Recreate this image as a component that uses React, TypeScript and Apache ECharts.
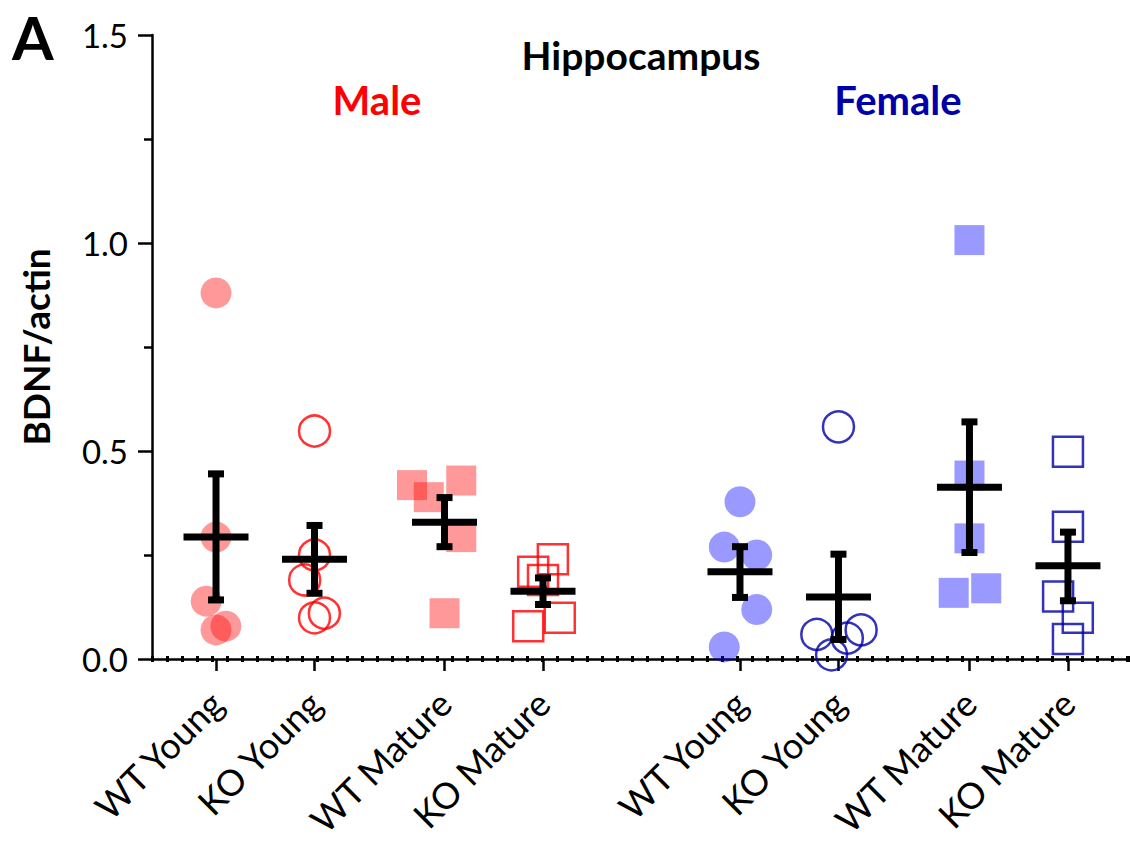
import React, { useEffect, useRef } from "react";
import * as echarts from "echarts";

// group positions on the x axis (gap between Male and Female blocks)
const groupPositions = [1, 2, 3.32, 4.32, 6.32, 7.32, 8.65, 9.65];
const groupLabels = [
  "WT Young", "KO Young", "WT Mature", "KO Mature",
  "WT Young", "KO Young", "WT Mature", "KO Mature",
];

// each point: [horizontal jitter (x units), BDNF/actin value]
const maleWTYoung = [[0, 0.88], [0, 0.293], [-0.1, 0.139], [0, 0.07], [0.1, 0.079]];
const maleKOYoung = [[0, 0.548], [0, 0.25], [-0.1, 0.19], [0, 0.099], [0.1, 0.11]];
const maleWTMature = [[-0.33, 0.418], [-0.16, 0.389], [0.17, 0.429], [0.17, 0.293], [0, 0.11]];
const maleKOMature = [[0.1, 0.24], [-0.1, 0.21], [0, 0.19], [0.17, 0.099], [-0.15, 0.079]];
const femaleWTYoung = [[0, 0.378], [-0.16, 0.269], [0.17, 0.25], [0.17, 0.119], [-0.16, 0.029]];
const femaleKOYoung = [[0, 0.558], [-0.22, 0.059], [0.23, 0.07], [0.09, 0.05], [-0.07, 0.01]];
const femaleWTMature = [[0, 1.007], [0, 0.441], [0, 0.29], [-0.16, 0.159], [0.17, 0.17]];
const femaleKOMature = [[0, 0.498], [0, 0.318], [-0.1, 0.15], [0.1, 0.099], [0, 0.048]];

// mean and SEM bounds
const means = [0.293, 0.24, 0.329, 0.163, 0.21, 0.149, 0.413, 0.224];
const errLow = [0.142, 0.158, 0.27, 0.131, 0.148, 0.047, 0.256, 0.14];
const errHigh = [0.445, 0.321, 0.388, 0.195, 0.27, 0.252, 0.57, 0.305];

const yTicks = [0, 0.5, 1.0, 1.5];

const RED = "#ff0000";
const RED_FILL = "rgba(255,0,0,0.5)";
const BLUE = "#0000a8";
const BLUE_FILL = "rgba(0,0,255,0.5)";
const FONT = "Lato, 'Open Sans', sans-serif";

const groups = [
  { data: maleWTYoung, symbol: "circle", size: 31, filled: true, color: RED_FILL },
  { data: maleKOYoung, symbol: "circle", size: 31, filled: false, color: RED },
  { data: maleWTMature, symbol: "rect", size: 30, filled: true, color: RED_FILL },
  { data: maleKOMature, symbol: "rect", size: 30, filled: false, color: RED },
  { data: femaleWTYoung, symbol: "circle", size: 31, filled: true, color: BLUE_FILL },
  { data: femaleKOYoung, symbol: "circle", size: 31, filled: false, color: BLUE },
  { data: femaleWTMature, symbol: "rect", size: 30, filled: true, color: BLUE_FILL },
  { data: femaleKOMature, symbol: "rect", size: 30, filled: false, color: BLUE },
];

export default function App() {
  const ref = useRef<HTMLDivElement>(null);

  useEffect(() => {
    if (!ref.current) return;
    const chart = echarts.init(ref.current, null, { renderer: "svg" });

    const scatterSeries = groups.map((g, i) => ({
      type: "scatter",
      xAxisIndex: 0,
      yAxisIndex: 0,
      symbol: g.symbol,
      symbolSize: g.size,
      z: 2,
      itemStyle: g.filled
        ? { color: g.color, borderWidth: 0 }
        : { color: "rgba(0,0,0,0)", borderColor: g.color, borderWidth: 2.5 },
      emphasis: { disabled: true },
      data: g.data.map((p) => [groupPositions[i] + p[0], p[1]]),
    }));

    const errData = groupPositions.map((x, i) => [x, means[i], errLow[i], errHigh[i]]);

    const errSeries = {
      type: "custom",
      xAxisIndex: 0,
      yAxisIndex: 0,
      z: 5,
      data: errData,
      encode: { x: 0, y: 1 },
      renderItem: (params: any, api: any) => {
        const x = api.value(0);
        const m = api.coord([x, api.value(1)]);
        const lo = api.coord([x, api.value(2)]);
        const hi = api.coord([x, api.value(3)]);
        const st = { fill: "#000" };
        const t = 7;
        return {
          type: "group",
          children: [
            { type: "rect", shape: { x: m[0] - t / 2, y: hi[1], width: t, height: lo[1] - hi[1] }, style: st },
            { type: "rect", shape: { x: m[0] - 8, y: hi[1] - t / 2, width: 16, height: t }, style: st },
            { type: "rect", shape: { x: m[0] - 8, y: lo[1] - t / 2, width: 16, height: t }, style: st },
            { type: "rect", shape: { x: m[0] - 32.5, y: m[1] - t / 2, width: 65, height: t }, style: st },
          ],
        };
      },
    };

    const option = {
      animation: false,
      backgroundColor: "#fff",
      grid: {
        left: 152, right: 0, top: 35, bottom: 182,
        containLabel: false, outerBoundsMode: "none",
      },
      xAxis: [
        {
          type: "value",
          min: 0.35,
          max: 10.28,
          position: "bottom",
          axisLine: { show: true, onZero: false, lineStyle: { color: "#000", width: 2.5 } },
          axisTick: {
            show: true,
            customValues: groupPositions,
            length: 12,
            inside: false,
            lineStyle: { color: "#000", width: 2.5 },
          },
          axisLabel: {
            show: true,
            customValues: groupPositions,
            rotate: 45,
            margin: 38,
            fontSize: 36,
            fontFamily: FONT,
            color: "#000",
            formatter: (v: number) => {
              const idx = groupPositions.findIndex((p) => Math.abs(p - v) < 1e-6);
              return idx >= 0 ? groupLabels[idx] : "";
            },
          },
          splitLine: { show: false },
        },
        {
          type: "value",
          min: 0,
          max: 978,
          interval: 15,
          position: "bottom",
          axisLine: { show: false },
          axisTick: { show: true, inside: true, length: 3, lineStyle: { color: "#000", width: 3 } },
          axisLabel: { show: false },
          splitLine: { show: false },
        },
        {
          type: "value",
          min: 0,
          max: 978,
          interval: 15,
          position: "bottom",
          axisLine: { show: false },
          axisTick: { show: true, inside: false, length: 3, lineStyle: { color: "#000", width: 3 } },
          axisLabel: { show: false },
          splitLine: { show: false },
        },
      ],
      yAxis: {
        type: "value",
        min: 0,
        max: 1.5,
        interval: 0.5,
        axisLine: { show: true, onZero: false, lineStyle: { color: "#000", width: 2.5 } },
        axisTick: { show: true, length: 14, lineStyle: { color: "#000", width: 2.5 } },
        minorTick: { show: true, splitNumber: 2, length: 8, lineStyle: { color: "#000", width: 2.5 } },
        axisLabel: {
          margin: 24,
          fontSize: 33,
          fontFamily: FONT,
          color: "#000",
          customValues: yTicks,
          formatter: (v: number) => v.toFixed(1),
        },
        splitLine: { show: false },
        name: "BDNF/actin",
        nameLocation: "middle",
        nameGap: 98,
        nameTextStyle: { fontSize: 37, fontWeight: "bold", fontFamily: FONT, color: "#000" },
      },
      graphic: [
        {
          type: "text",
          x: 12,
          y: 37,
          style: {
            text: "A", fontSize: 60, fontWeight: "bold", fontFamily: FONT, fill: "#000",
            align: "left", verticalAlign: "middle",
          },
        },
        {
          type: "text",
          x: 641,
          y: 55,
          style: {
            text: "Hippocampus", fontSize: 39, fontWeight: "bold", fontFamily: FONT,
            fill: "#000", align: "center", verticalAlign: "middle",
          },
        },
        {
          type: "text",
          x: 377,
          y: 100,
          style: {
            text: "Male", fontSize: 40, fontWeight: "bold", fontFamily: FONT,
            fill: RED, align: "center", verticalAlign: "middle",
          },
        },
        {
          type: "text",
          x: 898,
          y: 100,
          style: {
            text: "Female", fontSize: 40, fontWeight: "bold", fontFamily: FONT,
            fill: BLUE, align: "center", verticalAlign: "middle",
          },
        },
      ],
      series: [...scatterSeries, errSeries],
    };

    chart.setOption(option as any);
    return () => chart.dispose();
  }, []);

  return (
    <div
      ref={ref}
      style={{ position: "absolute", left: 0, top: 0, width: 1130, height: 841, background: "#fff" }}
    />
  );
}
